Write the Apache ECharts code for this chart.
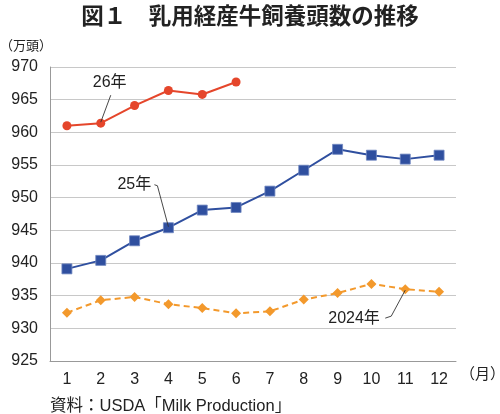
<!DOCTYPE html>
<html>
<head>
<meta charset="utf-8">
<script src="https://cdn.jsdelivr.net/npm/echarts@6/dist/echarts.min.js"></script>
<style>
  html, body { margin: 0; padding: 0; background: #fff; }
  #main { width: 500px; height: 414px; }
</style>
</head>
<body>
<div id="main"></div>
<script>
var months = ['1', '2', '3', '4', '5', '6', '7', '8', '9', '10', '11', '12'];
var y2026 = [961.0, 961.4, 964.1, 966.4, 965.8, 967.7];
var y2025 = [939.1, 940.4, 943.4, 945.4, 948.1, 948.5, 951.0, 954.2, 957.4, 956.5, 955.9, 956.5];
var y2024 = [932.4, 934.3, 934.8, 933.7, 933.1, 932.3, 932.6, 934.4, 935.4, 936.8, 936.0, 935.6];

var FONT = '"Noto Sans CJK JP", "Noto Sans", sans-serif';
var MIX = '"Liberation Sans", "Noto Sans CJK JP", sans-serif';
var RED = '#e5462b', BLUE = '#2f4f9f', ORANGE = '#f3992c';

var myChart = echarts.init(document.getElementById('main'));

myChart.setOption({
  animation: false,
  textStyle: { fontFamily: FONT },
  title: {
    text: '図１　乳用経産牛飼養頭数の推移',
    left: 'center',
    top: -1,
    textStyle: { fontSize: 22.5, fontWeight: 'bold', color: '#222', fontFamily: FONT }
  },
  grid: { left: 50, right: 44, top: 67, bottom: 53 },
  xAxis: {
    type: 'category',
    data: months,
    boundaryGap: true,
    axisLine: { lineStyle: { color: '#999' } },
    axisTick: { show: false },
    axisLabel: { color: '#222', fontSize: 16, margin: 11, fontFamily: MIX }
  },
  yAxis: {
    type: 'value',
    min: 925, max: 970, interval: 5,
    axisLine: { show: true, lineStyle: { color: '#999' } },
    axisTick: { show: false },
    splitLine: { lineStyle: { color: '#c8c8c8' } },
    axisLabel: { color: '#222', fontSize: 16, margin: 12, fontFamily: MIX }
  },
  series: [
    {
      name: '2024年', type: 'line', data: y2024,
      symbol: 'diamond', symbolSize: 10,
      lineStyle: { color: ORANGE, width: 2, type: [6, 4] },
      itemStyle: { color: ORANGE }
    },
    {
      name: '25年', type: 'line', data: y2025,
      symbol: 'rect', symbolSize: 10,
      lineStyle: { color: BLUE, width: 2 },
      itemStyle: { color: BLUE, borderColor: '#6f86c0', borderWidth: 0.8 }
    },
    {
      name: '26年', type: 'line', data: y2026,
      symbol: 'circle', symbolSize: 9,
      lineStyle: { color: RED, width: 2 },
      itemStyle: { color: RED }
    }
  ]
});

// annotation labels with leader lines, anchored to data points
function pt(si, idx, val) { return myChart.convertToPixel({ seriesIndex: si }, [idx, val]); }
var p26 = pt(2, 1, y2026[1]);
var p25 = pt(1, 3, y2025[3]);
var p24 = pt(0, 10, y2024[10]);
var lab = { fill: '#222', font: '16px ' + MIX };
myChart.setOption({
  graphic: [
    { type: 'text', x: 505, y: 366, style: { text: '（月）', fill: '#222', font: '15px ' + FONT, align: 'right' } },
    { type: 'text', left: 0, top: 39, style: { text: '（万頭）', fill: '#222', font: '13px ' + FONT } },
    { type: 'text', left: 50, top: 398, style: { text: '資料：USDA「Milk Production」', fill: '#222', font: '16.5px ' + MIX } },
    { type: 'line', shape: { x1: p26[0] + 10, y1: p26[1] - 28, x2: p26[0], y2: p26[1] - 1 }, style: { stroke: '#333', lineWidth: 0.9 }, z: 10 },
    { type: 'text', x: p26[0] - 8, y: p26[1] - 49, style: Object.assign({ text: '26年' }, lab), z: 10 },
    { type: 'polyline', shape: { points: [[p25[0] - 14, p25[1] - 43], [p25[0] - 11, p25[1] - 42], [p25[0], p25[1] - 1]] }, style: { stroke: '#333', lineWidth: 0.9, fill: null }, z: 10 },
    { type: 'text', x: p25[0] - 51, y: p25[1] - 51, style: Object.assign({ text: '25年' }, lab), z: 10 },
    { type: 'polyline', shape: { points: [[p24[0] - 20, p24[1] + 29], [p24[0] - 14, p24[1] + 27], [p24[0], p24[1] + 1]] }, style: { stroke: '#333', lineWidth: 0.9, fill: null }, z: 10 },
    { type: 'text', x: p24[0] - 77, y: p24[1] + 21, style: Object.assign({ text: '2024年' }, lab), z: 10 }
  ]
});
</script>
</body>
</html>
